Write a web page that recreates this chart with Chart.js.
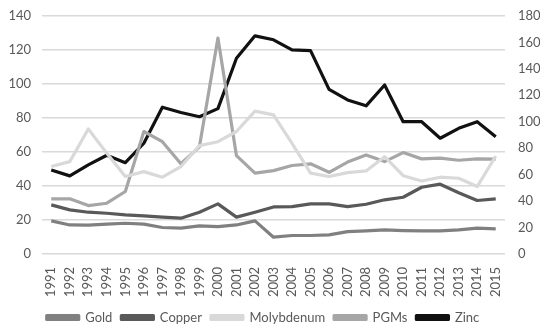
<!DOCTYPE html>
<html>
<head>
<meta charset="utf-8">
<script src="https://cdn.jsdelivr.net/npm/chart.js@4"></script>
<style>
    html, body { margin: 0; padding: 0; background: #fff; }
    #wrap { width: 550px; height: 329px; }
</style>
</head>
<body>
<div id="wrap"><canvas id="chart" width="550" height="329"></canvas></div>
<script>
    const years = ['1991', '1992', '1993', '1994', '1995', '1996', '1997', '1998', '1999', '2000',
        '2001', '2002', '2003', '2004', '2005', '2006', '2007', '2008', '2009', '2010',
        '2011', '2012', '2013', '2014', '2015'];

    // left axis
    const gold = [19.4, 17, 16.9, 17.5, 18, 17.5, 15.5, 15.1, 16.5, 16, 17, 19.4, 9.8, 10.8, 10.8,
        11.2, 13.1, 13.5, 14.1, 13.7, 13.5, 13.5, 14.1, 15.1, 14.7];
    const copper = [28.8, 25.9, 24.5, 23.9, 22.9, 22.4, 21.6, 21, 24.5, 29.4, 21.6, 24.5, 27.6, 27.8, 29.4,
        29.4, 27.8, 29.2, 31.8, 33.3, 39.2, 41, 36, 31.4, 32.4];
    const molybdenum = [51.4, 54.3, 73.5, 59.2, 45.5, 48.4, 45.1, 51.4, 63.7, 66, 72, 84, 81.8, 65, 47.5,
        45.5, 47.8, 48.8, 57.2, 46, 42.9, 45.1, 44.5, 39.6, 57.6];
    const pgms = [32.4, 32.4, 28.4, 29.8, 36.7, 72, 66, 53, 63, 127, 57.8, 47.5, 49, 52, 53,
        48, 54, 58.2, 54.3, 59.6, 55.9, 56.3, 55.1, 55.9, 55.7];
    // right axis
    const zinc = [63.5, 59, 67.3, 74.6, 69, 83.7, 111, 107, 103.8, 109.9, 148, 165, 162, 154.3, 153.8,
        124.5, 116.5, 112, 127.8, 100, 100, 87.5, 95, 100, 88.7];

    const leftTicks = [0, 20, 40, 60, 80, 100, 120, 140];
    const rightTicks = [0, 20, 40, 60, 80, 100, 120, 140, 160, 180];

    const font = { family: 'Lato, "Open Sans", sans-serif', size: 13 };
    const textColor = '#595959';

    function series(label, data, color, axis) {
        return {
            label: label,
            data: data,
            yAxisID: axis,
            borderColor: color,
            backgroundColor: color,
            borderWidth: 3.2,
            pointRadius: 0,
            tension: 0,
            borderJoinStyle: 'round'
        };
    }

    // fixed side widths and top gap so the plot sits where the original does
    function fitSide(width) {
        return axis => {
            axis.width = width;
            axis.paddingTop = 16;
            axis.paddingBottom = 0;
        };
    }

    new Chart(document.getElementById('chart'), {
        type: 'line',
        data: {
            labels: years,
            datasets: [
                series('Gold', gold, '#808080', 'y'),
                series('Copper', copper, '#595959', 'y'),
                series('Molybdenum', molybdenum, '#d9d9d9', 'y'),
                series('PGMs', pgms, '#a6a6a6', 'y'),
                series('Zinc', zinc, '#111111', 'y1')
            ]
        },
        options: {
            responsive: false,
            animation: false,
            layout: { padding: { left: -14, right: 10, top: 0, bottom: -5 } },
            plugins: {
                legend: {
                    position: 'bottom',
                    labels: {
                        boxWidth: 32,
                        boxHeight: 4,
                        padding: 9,
                        color: textColor,
                        font: font
                    }
                },
                tooltip: { enabled: false }
            },
            scales: {
                x: {
                    offset: true,
                    grid: { display: false },
                    border: { display: false },
                    ticks: { color: textColor, font: font, maxRotation: 90, minRotation: 90, autoSkip: false, padding: 5 }
                },
                y: {
                    position: 'left',
                    min: 0,
                    max: 140,
                    afterBuildTicks: axis => { axis.ticks = leftTicks.map(v => ({ value: v })); },
                    afterFit: fitSide(56),
                    grid: { color: '#d9d9d9', lineWidth: 1.5, drawTicks: false },
                    border: { display: false },
                    ticks: { color: textColor, font: font, padding: 11 }
                },
                y1: {
                    position: 'right',
                    min: 0,
                    max: 180,
                    afterBuildTicks: axis => { axis.ticks = rightTicks.map(v => ({ value: v })); },
                    afterFit: fitSide(35),
                    grid: { display: false, drawTicks: false },
                    border: { display: false },
                    ticks: { color: textColor, font: font, padding: 13 }
                }
            }
        }
    });
</script>
</body>
</html>
